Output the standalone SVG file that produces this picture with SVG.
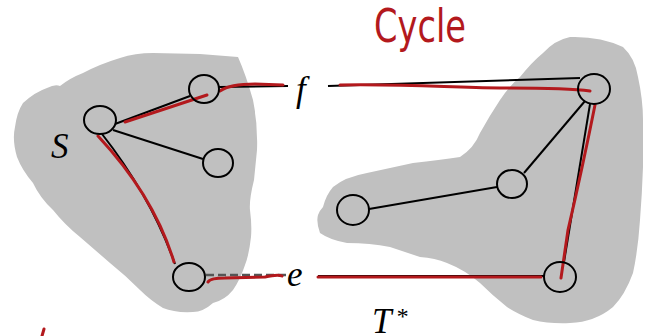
<svg xmlns="http://www.w3.org/2000/svg" width="646" height="336" viewBox="0 0 646 336">
<style>
.blob{fill:#c0c0c0;stroke:none}
.node{fill:none;stroke:#000;stroke-width:2}
.edge{fill:none;stroke:#000;stroke-width:2}
.dash{fill:none;stroke:#555;stroke-width:2.5;stroke-dasharray:8,4}
.red{fill:none;stroke:#b3191d;stroke-width:3;stroke-linecap:round;stroke-linejoin:round}
.lbl{font-family:"Liberation Serif","DejaVu Serif",serif;font-style:italic;font-size:35px;fill:#000}
.hand{font-family:"DejaVu Sans","Liberation Sans",sans-serif;font-size:46px;fill:#b3191d}
</style>
<g id="blobs">
<path class="blob" d="M83,73 Q100,64 120,58 Q135,53 153,53 L200,54 L238,57 Q246,75 253,100 Q258,125 257,150 L254,180 Q249,200 250,210 Q252,225 251,237 Q249,255 245,265 Q240,280 233,290 Q225,300 213,303 Q203,312 193,312 Q175,313 163,308 Q150,300 140,290 Q125,275 110,263 Q95,250 80,237 Q65,225 53,210 Q40,198 33,183 Q22,170 17,157 Q12,140 15,127 Q17,112 23,103 Q35,92 47,88 Q55,84 60,86 Q70,78 83,73 Z"/>
<path class="blob" d="M543,53 Q555,40 570,37 Q600,36 623,47 Q635,58 638,77 Q643,100 643,120 L643,167 Q642,195 640,220 Q638,250 633,273 Q625,295 613,307 Q595,322 570,323 Q550,324 533,320 Q518,314 507,307 Q492,295 480,283 Q465,270 447,263 Q435,258 420,257 Q405,252 390,247 Q370,243 347,243 Q330,240 320,233 Q316,222 318,215 Q320,210 323,207 Q326,195 333,187 Q345,177 367,173 Q390,168 413,163 Q440,160 460,157 Q474,148 480,133 Q490,115 500,100 Q510,85 520,77 Q532,62 543,53 Z"/>
</g>
<g id="connectors">
<line class="edge" x1="115" y1="124" x2="190" y2="96"/>
<line class="edge" x1="113" y1="130" x2="203" y2="159"/>
<path class="edge" d="M102,134 Q150,195 175,264"/>
<line class="edge" x1="219" y1="87" x2="288" y2="86"/>
<line class="edge" x1="328" y1="86" x2="580" y2="78"/>
<line class="edge" x1="585" y1="101" x2="524" y2="173"/>
<line class="edge" x1="497" y1="187" x2="369" y2="209"/>
<line class="edge" x1="590" y1="104" x2="564" y2="262"/>
<line class="dash" x1="206" y1="275" x2="288" y2="275"/>
<line class="edge" x1="318" y1="276" x2="545" y2="276" stroke="#555"/>
<path class="red" d="M125,122 L207,95"/>
<path class="red" d="M220,91 Q230,84 255,84 L283,85"/>
<path class="red" d="M340,85 C420,84 450,88 500,88 S575,89 590,91"/>
<path class="red" d="M595,105 Q582,170 568,230 L561,278"/>
<path class="red" d="M318,277 L541,277"/>
<path class="red" d="M208,282 Q210,278 225,278 L265,277 Q278,274 282,276"/>
<path class="red" d="M174,262 Q154,196 98,136"/>
<path class="red" d="M44,329 L42,336"/>
</g>
<g id="node-S"><ellipse class="node" cx="100" cy="120" rx="16" ry="14"/></g>
<g id="node-A"><ellipse class="node" cx="204" cy="89" rx="15" ry="14"/></g>
<g id="node-B"><ellipse class="node" cx="218" cy="163" rx="15" ry="14"/></g>
<g id="node-C"><ellipse class="node" cx="189" cy="277" rx="16" ry="14"/></g>
<g id="node-D"><ellipse class="node" cx="594" cy="89" rx="16" ry="15"/></g>
<g id="node-E"><ellipse class="node" cx="512" cy="184" rx="15" ry="14"/></g>
<g id="node-F"><ellipse class="node" cx="353" cy="210" rx="16" ry="15"/></g>
<g id="node-G"><ellipse class="node" cx="560" cy="277" rx="16" ry="15"/></g>
<g id="labels">
<text class="lbl" x="51" y="158">S</text>
<text class="lbl" x="296" y="101">f</text>
<text class="lbl" x="287" y="286">e</text>
<text class="lbl" x="372" y="333">T<tspan font-size="24" dx="4" dy="-9">*</tspan></text>
<text class="hand" x="374" y="42" textLength="92" lengthAdjust="spacingAndGlyphs">Cycle</text>
</g>
</svg>
